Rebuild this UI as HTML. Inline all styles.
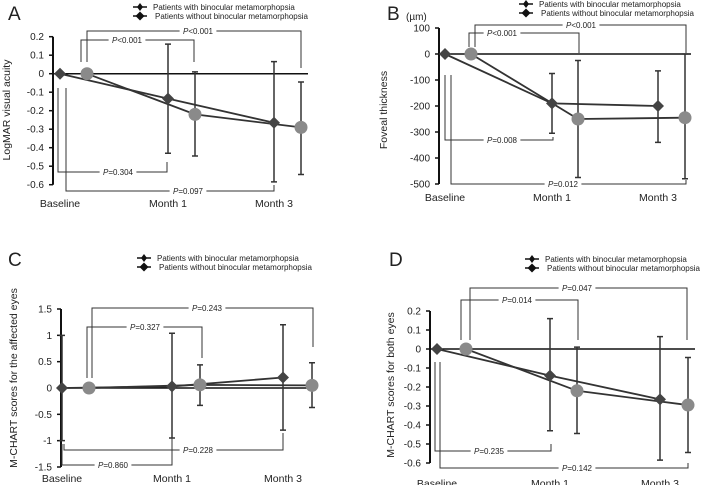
<!DOCTYPE html>
<html><head><meta charset="utf-8"><style>
html,body{margin:0;padding:0;background:#fff;}
svg{display:block;font-family:"Liberation Sans",sans-serif;}
</style></head><body>
<svg id="fig" width="708" height="485" viewBox="0 0 708 485" xmlns="http://www.w3.org/2000/svg"></svg>
<script>
// ---- data ----
const categories = ["Baseline","Month 1","Month 3"];
const aWith = [0,-0.135,-0.265];
const aWithErrHi = [0,0.16,0.065];
const aWithErrLo = [0,-0.43,-0.585];
const aWithout = [0,-0.22,-0.29];
const aWithoutErrHi = [0,0.01,-0.045];
const aWithoutErrLo = [0,-0.445,-0.545];
const aTicks = ["0.2","0.1","0","-0.1","-0.2","-0.3","-0.4","-0.5","-0.6"];
const aTickVals = [0.2,0.1,0,-0.1,-0.2,-0.3,-0.4,-0.5,-0.6];

const bWith = [0,-190,-200];
const bWithErrHi = [0,-75,-65];
const bWithErrLo = [0,-305,-340];
const bWithout = [0,-250,-245];
const bWithoutErrHi = [0,-25,0];
const bWithoutErrLo = [0,-475,-480];
const bTicks = ["100","0","-100","-200","-300","-400","-500"];
const bTickVals = [100,0,-100,-200,-300,-400,-500];

const cWith = [0,0.03,0.2];
const cWithErrHi = [1,1.04,1.2];
const cWithErrLo = [-1,-0.95,-0.8];
const cWithout = [0,0.06,0.05];
const cWithoutErrHi = [0,0.44,0.48];
const cWithoutErrLo = [0,-0.33,-0.37];
const cTicks = ["1.5","1","0.5","0","-0.5","-1","-1.5"];
const cTickVals = [1.5,1,0.5,0,-0.5,-1,-1.5];

const dWith = [0,-0.14,-0.265];
const dWithErrHi = [0,0.16,0.065];
const dWithErrLo = [0,-0.43,-0.585];
const dWithout = [0,-0.22,-0.295];
const dWithoutErrHi = [0,0.01,-0.045];
const dWithoutErrLo = [0,-0.445,-0.545];
const dTicks = ["0.2","0.1","0","-0.1","-0.2","-0.3","-0.4","-0.5","-0.6"];
const dTickVals = [0.2,0.1,0,-0.1,-0.2,-0.3,-0.4,-0.5,-0.6];

const pA = ["P<0.001","P<0.001","P=0.304","P=0.097"];
const pB = ["P<0.001","P<0.001","P=0.008","P=0.012"];
const pC = ["P=0.327","P=0.243","P=0.860","P=0.228"];
const pD = ["P=0.014","P=0.047","P=0.235","P=0.142"];

const NS="http://www.w3.org/2000/svg";
const svg=document.getElementById('fig');
function mk(tag,attrs,parent,text){const e=document.createElementNS(NS,tag);for(const k in attrs)e.setAttribute(k,attrs[k]);if(text!==undefined)e.textContent=text;(parent||svg).appendChild(e);return e;}

function panel(cfg){
  const g=mk('g',{});
  
  
  const y=v=>cfg.y0+(cfg.yTop-cfg.y0)*(v/cfg.vTop);
  // letter
  const L=mk('text',{x:cfg.letter[0],y:cfg.letter[1],'font-size':19,fill:'#222'},g,cfg.id);
  
  // legend
  const lg=mk('g',{},g);
  
  const lx=cfg.leg[0],ly=cfg.leg[1];
  ["Patients with binocular metamorphopsia","Patients without binocular metamorphopsia"].forEach((t,i)=>{
    const yy=ly+i*9;
    const e=mk('g',{},lg);
    
    mk('line',{x1:lx,x2:lx+14,y1:yy,y2:yy,stroke:'#111','stroke-width':1.5},e);
    if(i==0) mk('path',{d:`M${lx+7} ${yy-4}L${lx+10} ${yy}L${lx+7} ${yy+4}L${lx+4} ${yy}Z`,fill:'#111'},e);
    else mk('path',{d:`M${lx+7} ${yy-4.5}L${lx+11.5} ${yy}L${lx+7} ${yy+4.5}L${lx+2.5} ${yy}Z`,fill:'#111'},e);
    mk('text',{x:lx+20+(i?2:0),y:yy+3,'font-size':8,fill:'#222'},e,t);
  });
  // axis
  const ax=mk('g',{},g);
  const yT=y(cfg.tickVals[0]),yB=y(cfg.tickVals[cfg.tickVals.length-1]);
  mk('line',{x1:cfg.ax,x2:cfg.ax,y1:yT,y2:yB,stroke:'#111','stroke-width':2},ax);
  cfg.tickVals.forEach((v,i)=>{
    mk('line',{x1:cfg.ax-4,x2:cfg.ax,y1:y(v),y2:y(v),stroke:'#111','stroke-width':1.5},ax);
    const t=mk('text',{x:cfg.ax-9,y:y(v)+3.5,'font-size':10,'text-anchor':'end',fill:'#222'},ax,cfg.ticks[i]);
    
  });
  const zl=mk('line',{x1:cfg.ax,x2:cfg.zEnd,y1:y(0),y2:y(0),stroke:'#111','stroke-width':1.5},g);
  
  const yt=mk('text',{x:cfg.yTitle[0],y:cfg.yTitle[1],'font-size':cfg.yTitleSize||10.5,'text-anchor':'middle',fill:'#222',transform:`rotate(-90 ${cfg.yTitle[0]} ${cfg.yTitle[1]})`},g,cfg.yTitleText);
  
  if(cfg.unit){const u=mk('text',{x:cfg.unit[0],y:cfg.unit[1],'font-size':10,fill:'#222'},g,'(µm)');}
  categories.forEach((c,i)=>{
    const t=mk('text',{x:cfg.xw[i],y:cfg.xlY,'font-size':10.5,'text-anchor':'middle',fill:'#222'},g,c);
    
  });
  // brackets
  cfg.br.forEach((b,i)=>{
    const bg=mk('g',{},g);
    mk('path',{d:`M${b[0]} ${b[3]}L${b[0]} ${b[2]}L${b[1]} ${b[2]}L${b[1]} ${b[4]}`,fill:'none',stroke:'#333','stroke-width':1},bg);
    const w=cfg.pl[i].length*4.4+6;
    mk('rect',{x:b[5]-w/2,y:b[2]-4,width:w,height:8,fill:'#fff'},bg);
    const t=mk('text',{x:b[5],y:b[2]+3,'font-size':8,'text-anchor':'middle','font-style':'italic',fill:'#222'},bg);
    mk('tspan',{},t,cfg.pl[i].slice(0,1));
    mk('tspan',{'font-style':'normal'},t,cfg.pl[i].slice(1));
  });
  // series
  const series=[[cfg.w,cfg.wHi,cfg.wLo,cfg.xw,'#444','diamond','series-with'],[cfg.wo,cfg.woHi,cfg.woLo,cfg.xwo,'#8a8a8a','circle','series-without']];
  series.forEach(s=>{
    const sg=mk('g',{},g);
    s[0].forEach((v,i)=>{
      if(s[1][i]!==s[2][i]){
        const x=s[3][i];
        const e=mk('path',{d:`M${x} ${y(s[1][i])}L${x} ${y(s[2][i])}M${x-3} ${y(s[1][i])}L${x+3} ${y(s[1][i])}M${x-3} ${y(s[2][i])}L${x+3} ${y(s[2][i])}`,stroke:'#333','stroke-width':1.5,fill:'none'},sg);
        
      }
    });
    const pts=s[0].map((v,i)=>s[3][i]+','+y(v)).join(' ');
    const pl=mk('polyline',{points:pts,fill:'none',stroke:'#333','stroke-width':1.8},sg);
    
  });
  series.forEach(s=>{
    s[0].forEach((v,i)=>{
      const x=s[3][i],yy=y(v);let m;
      if(s[5]=='diamond') m=mk('path',{d:`M${x} ${yy-6}L${x+6} ${yy}L${x} ${yy+6}L${x-6} ${yy}Z`,fill:s[4]},g);
      else m=mk('circle',{cx:x,cy:yy,r:6.5,fill:s[4]},g);
      
    });
  });
}

panel({id:'A',letter:[8,20],leg:[133,7],ax:53,y0:73.7,yTop:36.7,vTop:0.2,ticks:aTicks,tickVals:aTickVals,zEnd:308,
  yTitle:[10,110],yTitleText:'LogMAR visual acuity',xlY:207,xw:[60,168,274],xwo:[87,195,301],
  w:aWith,wHi:aWithErrHi,wLo:aWithErrLo,wo:aWithout,woHi:aWithoutErrHi,woLo:aWithoutErrLo,pl:pA,
  br:[[81,194,40,62,62,127],[87,301,31,62,68,198],[58,167,172,88,162,118],[66,274,191,88,185,188]]});
panel({id:'B',letter:[387,20],leg:[519,4],ax:439,y0:54,yTop:28,vTop:100,ticks:bTicks,tickVals:bTickVals,zEnd:691,
  yTitle:[387,110],yTitleText:'Foveal thickness',unit:[406,20],xlY:201,xw:[445,552,658],xwo:[471,578,685],
  w:bWith,wHi:bWithErrHi,wLo:bWithErrLo,wo:bWithout,woHi:bWithoutErrHi,woLo:bWithoutErrLo,pl:pB,
  br:[[469,579,33,47,53,502],[475,686,25,47,53,581],[445,553,140,75,137,502],[451,686,184,75,180,563]]});
panel({id:'C',letter:[8,266],leg:[137,258],ax:61,y0:388,yTop:309,vTop:1.5,ticks:cTicks,tickVals:cTickVals,zEnd:317,
  yTitle:[17,378],yTitleText:'M-CHART scores for the affected eyes',xlY:482,xw:[62,172,283],xwo:[89,200,312],
  w:cWith,wHi:cWithErrHi,wLo:cWithErrLo,wo:cWithout,woHi:cWithoutErrHi,woLo:cWithoutErrLo,pl:pC,
  br:[[87,202,327,378,358,145],[92,313,308,378,347,207],[62,172,465,444,438,113],[64,283,450,444,433,198]]});
panel({id:'D',letter:[389,266],leg:[525,259],ax:430,y0:349,yTop:311,vTop:0.2,ticks:dTicks,tickVals:dTickVals,zEnd:695,
  yTitle:[394,385],yTitleText:'M-CHART scores  for  both eyes',xlY:487,xw:[437,550,660],xwo:[466,577,688],
  w:dWith,wHi:dWithErrHi,wLo:dWithErrLo,wo:dWithout,woHi:dWithoutErrHi,woLo:dWithoutErrLo,pl:pD,
  br:[[461,578,300,340,340,517],[470,687,288,340,340,577],[435,551,451,362,444,489],[440,688,468,362,463,577]]});
</script>
</body></html>
